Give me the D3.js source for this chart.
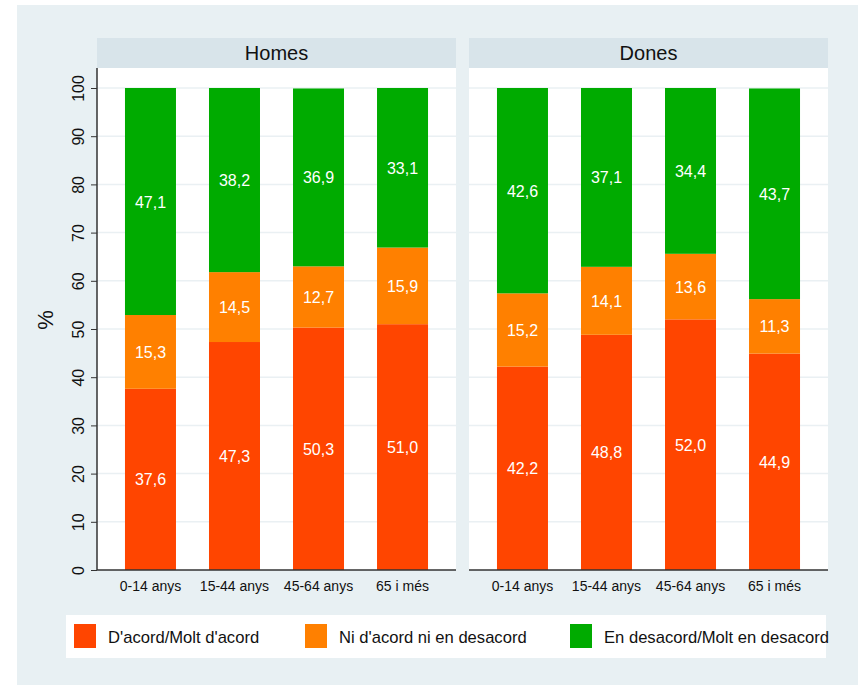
<!DOCTYPE html>
<html>
<head>
<meta charset="utf-8">
<script src="https://d3js.org/d3.v7.min.js"></script>
<style>
  body { margin: 0; background: #ffffff; }
  text { font-family: "Liberation Sans", Arial, sans-serif; }
</style>
</head>
<body>
<div id="chart"></div>
<script>
// data
var panels = ["Homes", "Dones"];
var ages = ["0-14 anys", "15-44 anys", "45-64 anys", "65 i més"];
var series = ["D'acord/Molt d'acord", "Ni d'acord ni en desacord", "En desacord/Molt en desacord"];
var colors = ["#ff4500", "#ff8000", "#00ab00"];
var homesVals = [
  [37.6, 47.3, 50.3, 51.0],
  [15.3, 14.5, 12.7, 15.9],
  [47.1, 38.2, 36.9, 33.1]
];
var donesVals = [
  [42.2, 48.8, 52.0, 44.9],
  [15.2, 14.1, 13.6, 11.3],
  [42.6, 37.1, 34.4, 43.7]
];
var yTicks = [0, 10, 20, 30, 40, 50, 60, 70, 80, 90, 100];

var W = 858, H = 685;
var svg = d3.select("#chart").append("svg")
  .attr("width", W).attr("height", H);

// outer background
svg.append("rect")
  .attr("x", 17).attr("y", 5)
  .attr("width", W - 17).attr("height", H - 5)
  .attr("fill", "#e8f0f3");

var plotTop = 68, plotBottom = 570;
var y = d3.scaleLinear().domain([0, 100]).range([570, 88]);

var panelX = [[97, 456], [469, 828]];
var allVals = [homesVals, donesVals];

panels.forEach(function (p, pi) {
  var x0 = panelX[pi][0], x1 = panelX[pi][1];
  var g = svg.append("g");

  // header strip
  g.append("rect")
    .attr("x", x0).attr("y", 38)
    .attr("width", x1 - x0).attr("height", 30)
    .attr("fill", "#d8e4ea");
  g.append("text")
    .attr("x", (x0 + x1) / 2).attr("y", 60)
    .attr("text-anchor", "middle")
    .attr("font-size", 20)
    .attr("fill", "#111")
    .text(p);

  // plot area
  g.append("rect")
    .attr("x", x0).attr("y", plotTop)
    .attr("width", x1 - x0).attr("height", plotBottom - plotTop)
    .attr("fill", "#ffffff");

  // grid
  g.selectAll(".grid")
    .data(yTicks.filter(function (d) { return d > 0; }))
    .enter().append("line")
    .attr("x1", x0).attr("x2", x1)
    .attr("y1", function (d) { return y(d); })
    .attr("y2", function (d) { return y(d); })
    .attr("stroke", "#eaf0f3")
    .attr("stroke-width", 1.5);

  var x = d3.scaleBand().domain(ages)
    .range([x0, x1]).paddingInner(0.393).paddingOuter(0.333);

  var vals = allVals[pi];
  var stackData = ages.map(function (a, i) {
    var o = { age: a };
    series.forEach(function (s, si) { o[s] = vals[si][i]; });
    return o;
  });
  var stacked = d3.stack().keys(series)(stackData);

  stacked.forEach(function (layer, si) {
    var lg = g.append("g");
    lg.selectAll("rect")
      .data(layer).enter().append("rect")
      .attr("x", function (d) { return x(d.data.age); })
      .attr("width", x.bandwidth())
      .attr("y", function (d) { return y(d[1]); })
      .attr("height", function (d) { return y(d[0]) - y(d[1]); })
      .attr("fill", colors[si]);
    lg.selectAll("text")
      .data(layer).enter().append("text")
      .attr("x", function (d) { return x(d.data.age) + x.bandwidth() / 2; })
      .attr("y", function (d) { return y((d[0] + d[1]) / 2) + 6; })
      .attr("text-anchor", "middle")
      .attr("font-size", 16)
      .attr("fill", "#ffffff")
      .text(function (d) { return d3.format(".1f")(d[1] - d[0]).replace(".", ","); });
  });

  // x axis
  var xAxis = g.append("g")
    .attr("transform", "translate(0," + plotBottom + ")")
    .call(d3.axisBottom(x).tickSize(0).tickPadding(11));
  xAxis.select(".domain").remove();
  g.append("line")
    .attr("x1", x0).attr("x2", x1)
    .attr("y1", plotBottom).attr("y2", plotBottom)
    .attr("stroke", "#333").attr("stroke-width", 1.5);
  xAxis.selectAll("text")
    .attr("font-size", 14)
    .attr("fill", "#111")
    .style("font-family", "Liberation Sans, Arial, sans-serif");

  if (pi === 0) {
    var yAxis = g.append("g")
      .attr("transform", "translate(" + x0 + ",0)")
      .call(d3.axisLeft(y).tickValues(yTicks).tickSize(6).tickPadding(4));
    yAxis.select(".domain")
      .attr("d", "M0," + plotTop + "V" + plotBottom)
      .attr("stroke", "#333").attr("stroke-width", 1.5);
    yAxis.selectAll(".tick line").attr("stroke", "#333");
    yAxis.selectAll(".tick text")
      .attr("font-size", 16)
      .attr("fill", "#111")
      .attr("transform", "rotate(-90)")
      .attr("x", 0).attr("y", -19)
      .attr("dy", "0.35em")
      .attr("text-anchor", "middle")
      .style("font-family", "Liberation Sans, Arial, sans-serif");
  }
});

// y label
svg.append("text")
  .attr("transform", "translate(53,320) rotate(-90)")
  .attr("text-anchor", "middle")
  .attr("font-size", 22)
  .attr("fill", "#111")
  .text("%");

// legend
var leg = svg.append("g");
leg.append("rect")
  .attr("x", 66).attr("y", 615)
  .attr("width", 760).attr("height", 43)
  .attr("fill", "#ffffff");
var legX = [74, 305, 570];
series.forEach(function (s, i) {
  leg.append("rect")
    .attr("x", legX[i]).attr("y", 624)
    .attr("width", 22).attr("height", 24)
    .attr("fill", colors[i]);
  leg.append("text")
    .attr("x", legX[i] + 34).attr("y", 643)
    .attr("font-size", 16.6)
    .attr("fill", "#111")
    .text(s);
});
</script>
</body>
</html>
